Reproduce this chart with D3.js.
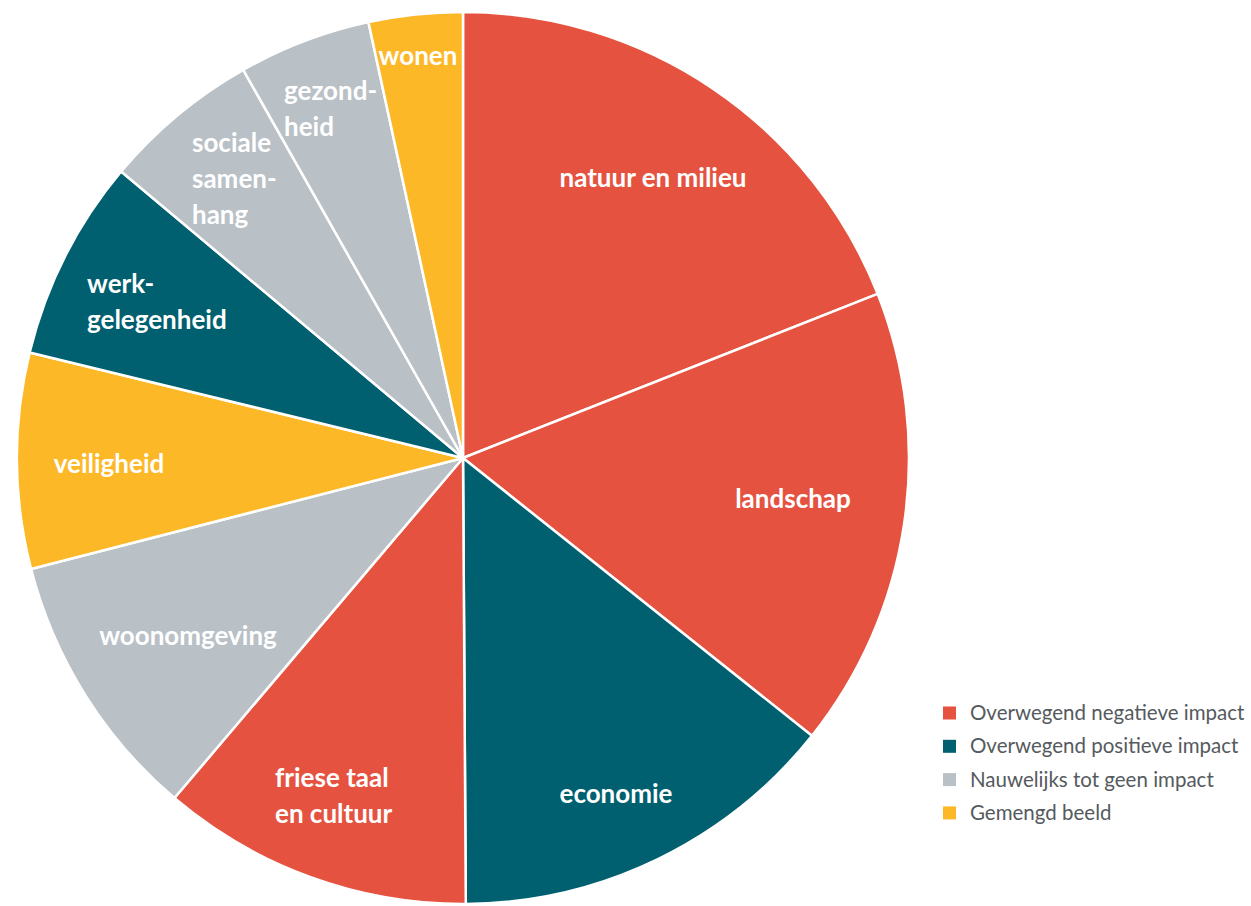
<!DOCTYPE html>
<html>
<head>
<meta charset="utf-8">
<script src="https://cdn.jsdelivr.net/npm/d3@7"></script>
<style>
  body { margin: 0; background: #fff; }
  svg text { font-family: Lato, "Open Sans", sans-serif; }
</style>
</head>
<body>
<div id="chart"></div>
<script>
var svgWidth = 1251;
var svgHeight = 906;

// data (share per theme, in percent of the circle)
var categories = ["natuur en milieu", "landschap", "economie", "friese taal en cultuur",
  "woonomgeving", "veiligheid", "werkgelegenheid", "sociale samenhang", "gezondheid", "wonen"];
var values = [19, 16.7, 14.2, 11.3, 9.8, 7.8, 7.3, 5.7, 4.8, 3.4];
var impacts = ["neg", "neg", "pos", "neg", "none", "mixed", "pos", "none", "none", "mixed"];
// label text as broken over lines in the picture
var labelLines = [
  ["natuur en milieu"], ["landschap"], ["economie"], ["friese taal", "en cultuur"],
  ["woonomgeving"], ["veiligheid"], ["werk-", "gelegenheid"], ["sociale", "samen-", "hang"],
  ["gezond-", "heid"], ["wonen"]
];

var legendKeys = ["neg", "pos", "none", "mixed"];
var legendLabels = ["Overwegend negatieve impact", "Overwegend positieve impact",
  "Nauwelijks tot geen impact", "Gemengd beeld"];

var color = d3.scaleOrdinal()
  .domain(legendKeys)
  .range(["#e65240", "#00606f", "#b9c0c6", "#fdb827"]);

// hand placed label anchors (x, first baseline, text-anchor)
var labelPos = [
  [653, 187, "middle"], [793, 508, "middle"], [616, 803, "middle"], [275, 787, "start"],
  [188, 645, "middle"], [109, 473, "middle"], [87, 293, "start"], [192, 152, "start"],
  [284, 100, "start"], [418, 65, "middle"]
];

var cx = 463, cy = 458, radius = 446;

var svg = d3.select("#chart")
  .append("svg")
  .attr("width", svgWidth)
  .attr("height", svgHeight);

var pieGroup = svg.append("g")
  .attr("transform", `translate(${cx}, ${cy})`);

var pie = d3.pie().sort(null).value(d => d.value);
var arc = d3.arc().innerRadius(0).outerRadius(radius);

var pieData = pie(categories.map((c, i) => ({ name: c, value: values[i], impact: impacts[i] })));

pieGroup.selectAll("path")
  .data(pieData)
  .enter()
  .append("path")
  .attr("d", arc)
  .attr("fill", d => color(d.data.impact))
  .attr("stroke", "#fff")
  .attr("stroke-width", 2.5)
  .attr("stroke-linejoin", "round");

// slice labels
svg.selectAll(".slice-label")
  .data(labelLines)
  .enter()
  .append("text")
  .attr("class", "slice-label")
  .attr("x", (d, i) => labelPos[i][0])
  .attr("y", (d, i) => labelPos[i][1])
  .attr("text-anchor", (d, i) => labelPos[i][2])
  .attr("fill", "#fff")
  .attr("font-size", "26px")
  .attr("font-weight", "bold")
  .each(function(lines, i) {
    var t = d3.select(this);
    lines.forEach(function(line, j) {
      t.append("tspan")
        .attr("x", labelPos[i][0])
        .attr("dy", j === 0 ? 0 : 36)
        .text(line);
    });
  });

// legend
var legend = svg.append("g")
  .attr("transform", "translate(943, 713)");

var rows = legend.selectAll("g")
  .data(legendKeys)
  .enter()
  .append("g")
  .attr("transform", (d, i) => `translate(0, ${i * 33.3})`);

rows.append("rect")
  .attr("x", 0)
  .attr("y", -6.5)
  .attr("width", 13)
  .attr("height", 13)
  .attr("fill", d => color(d));

rows.append("text")
  .attr("x", 27)
  .attr("y", 7)
  .attr("font-size", "20.5px")
  .attr("fill", "#555a5e")
  .text((d, i) => legendLabels[i]);
</script>
</body>
</html>
